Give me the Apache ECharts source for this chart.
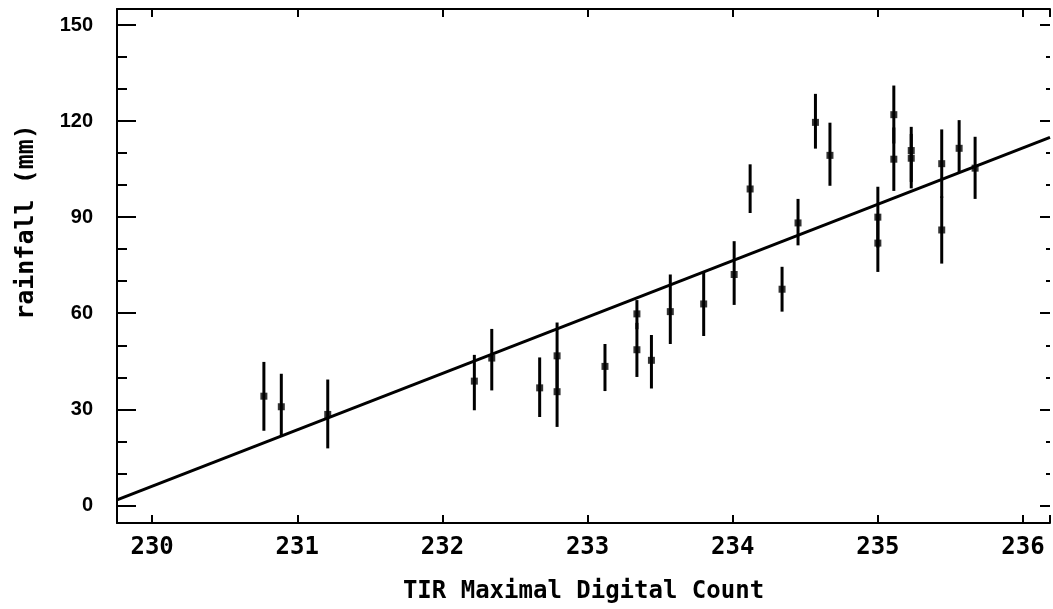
<!DOCTYPE html>
<html><head><meta charset="utf-8">
<script src="https://cdn.jsdelivr.net/npm/echarts@6/dist/echarts.min.js"></script>
<style>html,body{margin:0;padding:0;background:#fff;overflow:hidden}#c{width:1053px;height:609px}</style>
</head><body><div id="c"></div>
<script>
// TIR maximal digital count (x) for each observation
const xCount = [230.77, 230.89, 231.21, 232.22, 232.34, 232.67, 232.79, 232.79, 233.12, 233.34,
                233.34, 233.44, 233.57, 233.80, 234.01, 234.12, 234.34, 234.45, 234.57, 234.67,
                235.00, 235.00, 235.11, 235.11, 235.23, 235.23, 235.44, 235.44, 235.56, 235.67];
// rainfall (mm)
const rain   = [34.1, 30.8, 28.4, 38.8, 46.0, 36.7, 46.7, 35.5, 43.4, 59.8,
                48.6, 45.3, 60.5, 62.9, 72.1, 98.8, 67.5, 88.2, 119.6, 109.3,
                90.0, 81.9, 122.0, 108.1, 110.8, 108.4, 106.7, 86.0, 111.5, 105.3];
// error bar lower / upper ends
const errLow = [23.3, 21.4, 17.8, 29.7, 35.9, 27.6, 36.5, 24.5, 35.7, 55.0,
                40.1, 36.5, 50.4, 52.9, 62.6, 91.3, 60.5, 81.2, 111.4, 99.8,
                80.5, 72.9, 113.0, 98.2, 101.0, 99.0, 96.0, 75.5, 103.9, 95.7];
const errHigh = [44.8, 41.1, 39.3, 47.0, 55.1, 46.2, 57.1, 46.0, 50.4, 64.1,
                57.0, 53.2, 72.1, 72.7, 82.5, 106.5, 74.5, 95.7, 128.5, 119.5,
                99.5, 91.0, 131.1, 118.0, 118.2, 116.0, 117.4, 96.5, 120.3, 115.1];
// regression line end points
const fitX = [229.758, 236.186];
const fitY = [1.74, 114.9];
// tick labels
const xTickLabels = [230, 231, 232, 233, 234, 235, 236];
const yTickLabels = [0, 30, 60, 90, 120, 150];

const X_MIN = 229.758, X_MAX = 236.186, Y_MIN = -5.5, Y_MAX = 155;
const monoFont = '"DejaVu Sans Mono", "Liberation Mono", monospace';
const labelFont = '"Liberation Sans", sans-serif';

function near(list, v) { return list.some(t => Math.abs(t - v) < 1e-6); }

const chart = echarts.init(document.getElementById('c'), null, {renderer: 'canvas'});
const axisLineStyle = {color: '#000', width: 2};

const option = {
  animation: false,
  backgroundColor: '#fff',
  grid: {left: 117, right: 0, top: 9, bottom: 83, containLabel: false},
  xAxis: [
    {
      type: 'value', position: 'bottom', min: X_MIN, max: X_MAX, splitNumber: 6,
      axisLine: {show: true, onZero: false, lineStyle: axisLineStyle},
      axisTick: {show: true, inside: true, length: 8, lineStyle: {color: '#000', width: 2}},
      axisLabel: {
        margin: 13, color: '#000', fontFamily: monoFont, fontWeight: 'bold', fontSize: 24,
        formatter: v => near(xTickLabels, v) ? String(Math.round(v)) : ''
      },
      splitLine: {show: false},
      name: 'TIR Maximal Digital Count', nameLocation: 'middle', nameGap: 57,
      nameTextStyle: {color: '#000', fontFamily: monoFont, fontWeight: 'bold', fontSize: 24}
    },
    {
      type: 'value', position: 'top', min: X_MIN, max: X_MAX, splitNumber: 6,
      axisLine: {show: true, onZero: false, lineStyle: axisLineStyle},
      axisTick: {show: true, inside: true, length: 8, lineStyle: {color: '#000', width: 2}},
      axisLabel: {show: false}, splitLine: {show: false}
    }
  ],
  yAxis: [
    {
      type: 'value', position: 'left', min: Y_MIN, max: Y_MAX, splitNumber: 5,
      axisLine: {show: true, onZero: false, lineStyle: axisLineStyle},
      axisTick: {show: true, inside: true, length: 19, lineStyle: {color: '#000', width: 2}},
      axisLabel: {
        margin: 24, color: '#000', fontFamily: labelFont, fontWeight: 'bold', fontSize: 20,
        formatter: v => near(yTickLabels, v) ? String(Math.round(v)) : ''
      },
      splitLine: {show: false}
    },
    {
      type: 'value', position: 'left', min: Y_MIN, max: Y_MAX, splitNumber: 16,
      axisLine: {show: false, onZero: false},
      axisTick: {show: true, inside: true, length: 10, lineStyle: {color: '#000', width: 2}},
      axisLabel: {show: false}, splitLine: {show: false}
    },
    {
      type: 'value', position: 'right', min: Y_MIN, max: Y_MAX, splitNumber: 5,
      axisLine: {show: false, onZero: false},
      axisTick: {show: true, inside: true, length: 10, lineStyle: {color: '#000', width: 2}},
      axisLabel: {show: false}, splitLine: {show: false}
    },
    {
      type: 'value', position: 'right', min: Y_MIN, max: Y_MAX, splitNumber: 16,
      axisLine: {show: false, onZero: false},
      axisTick: {show: true, inside: true, length: 4, lineStyle: {color: '#000', width: 2}},
      axisLabel: {show: false}, splitLine: {show: false}
    }
  ],
  graphic: [{
    type: 'text', x: 26, y: 222, rotation: Math.PI / 2,
    style: {
      text: 'rainfall (mm)', fill: '#000',
      font: 'bold 25px ' + monoFont,
      textAlign: 'center', textVerticalAlign: 'middle'
    }
  }],
  series: [
    {
      type: 'line', xAxisIndex: 0, yAxisIndex: 0,
      data: fitX.map((x, i) => [x, fitY[i]]),
      showSymbol: false, symbol: 'none',
      lineStyle: {color: '#000', width: 3}, z: 2
    },
    {
      type: 'custom', xAxisIndex: 0, yAxisIndex: 0,
      data: xCount.map((x, i) => [x, errLow[i], errHigh[i]]),
      encode: {x: 0, y: [1, 2]},
      renderItem: function (params, api) {
        const a = api.coord([api.value(0), api.value(1)]);
        const b = api.coord([api.value(0), api.value(2)]);
        return {
          type: 'line',
          shape: {x1: a[0], y1: a[1], x2: b[0], y2: b[1]},
          style: {stroke: '#000', lineWidth: 3}
        };
      },
      z: 3
    },
    {
      type: 'scatter', xAxisIndex: 0, yAxisIndex: 0,
      data: xCount.map((x, i) => [x, rain[i]]),
      symbol: 'rect', symbolSize: 7,
      itemStyle: {color: '#000'}, z: 4
    }
  ]
};
chart.setOption(option);
</script>
</body></html>
